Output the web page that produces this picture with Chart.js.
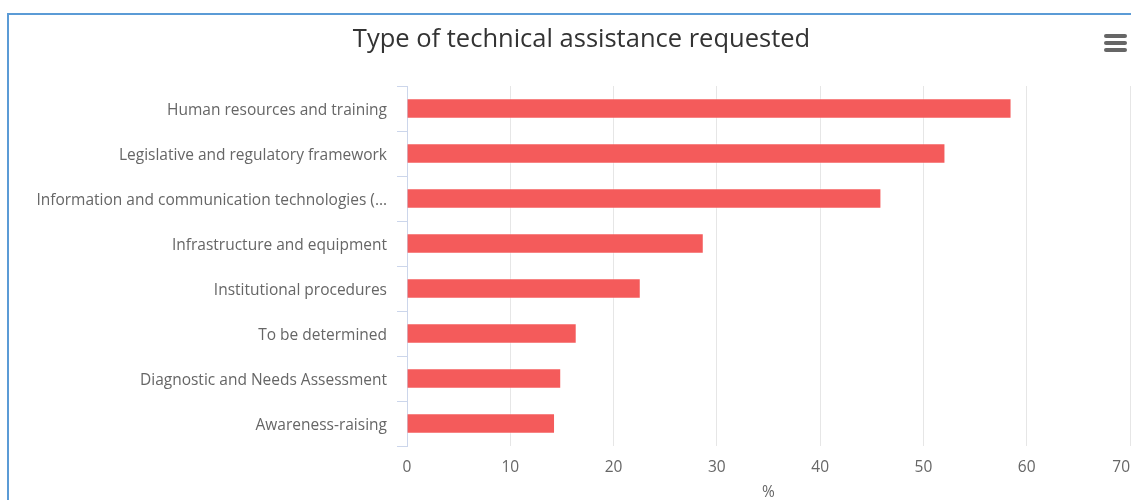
<!DOCTYPE html>
<html>
<head>
<meta charset="utf-8">
<script src="https://cdn.jsdelivr.net/npm/chart.js@4.4.1/dist/chart.umd.min.js"></script>
<style>
  html, body { margin: 0; padding: 0; background: #fff; overflow: hidden; }
  #wrap { position: relative; width: 1131px; height: 500px; overflow: hidden; }
  #chart { position: absolute; left: 0; top: 0; }
  #frame { position: absolute; left: 7px; top: 13px; width: 2000px; height: 2000px;
           border-left: 2px solid #5b9bd6; border-top: 2px solid #5b9bd6; pointer-events: none; }
  #menu { position: absolute; left: 1104px; top: 34px; width: 23px; }
  #menu span { display: block; height: 4px; background: #666; border-radius: 2px; margin-bottom: 3px; }
</style>
</head>
<body>
<div id="wrap">
  <canvas id="chart" width="1131" height="502"></canvas>
  <div id="frame"></div>
  <div id="menu"><span></span><span></span><span></span></div>
</div>
<script>
const categories = [
  'Human resources and training',
  'Legislative and regulatory framework',
  'Information and communication technologies (\u2026',
  'Infrastructure and equipment',
  'Institutional procedures',
  'To be determined',
  'Diagnostic and Needs Assessment',
  'Awareness-raising'
];
const percentValues = [58.5, 52.1, 45.9, 28.7, 22.6, 16.4, 14.9, 14.3];
const axisMin = 0;
const axisMax = 70;
const axisStep = 10;
const chartTitle = 'Type of technical assistance requested';
const axisTitle = '%';

const FONT = '"Open Sans", "DejaVu Sans", sans-serif';
const LABEL_COLOR = '#666666';
const LABEL_SIZE = 15.5;

// The last value label is justified so it stays inside the plot edge
const lastTickLabel = {
  id: 'lastTickLabel',
  afterDraw(chart) {
    const s = chart.scales.x;
    const ctx = chart.ctx;
    const x = s.getPixelForValue(axisMax);
    const pad = s.options.ticks.padding;
    ctx.save();
    ctx.font = LABEL_SIZE + 'px ' + FONT;
    ctx.fillStyle = LABEL_COLOR;
    ctx.textAlign = 'right';
    ctx.textBaseline = 'middle';
    ctx.fillText(String(axisMax), x, s.top + pad + LABEL_SIZE * 1.2 / 2);
    ctx.restore();
  }
};

new Chart(document.getElementById('chart'), {
  type: 'bar',
  data: {
    labels: categories,
    datasets: [{
      data: percentValues,
      backgroundColor: '#f45b5b',
      borderColor: 'rgba(255,255,255,0.35)',
      borderWidth: 1,
      barThickness: 20
    }]
  },
  options: {
    indexAxis: 'y',
    responsive: false,
    animation: false,
    events: [],
    layout: { autoPadding: false, padding: { left: 33, right: 1, top: 0, bottom: 0 } },
    plugins: {
      legend: { display: false },
      tooltip: { enabled: false },
      title: {
        display: true,
        text: chartTitle,
        color: '#333333',
        font: { family: FONT, size: 25.5, weight: 'normal' },
        padding: { top: 24, bottom: 31.4 }
      }
    },
    scales: {
      x: {
        min: axisMin,
        max: axisMax,
        afterFit(s) { s.height = 56; s.paddingLeft = 0; s.paddingRight = 0; },
        ticks: {
          stepSize: axisStep,
          padding: 12.7,
          color: LABEL_COLOR,
          font: { family: FONT, size: LABEL_SIZE },
          callback: (v) => (v === axisMax ? '' : v)
        },
        grid: { color: '#e6e6e6', lineWidth: 1, drawTicks: false },
        border: { display: false },
        title: {
          display: true,
          text: axisTitle,
          color: LABEL_COLOR,
          font: { family: FONT, size: LABEL_SIZE },
          padding: { top: 0, bottom: 0 }
        }
      },
      y: {
        afterFit(s) { s.width = 374; },
        ticks: {
          padding: 10,
          labelOffset: 2,
          color: LABEL_COLOR,
          font: { family: FONT, size: LABEL_SIZE }
        },
        grid: {
          offset: true,
          drawOnChartArea: false,
          drawTicks: true,
          tickLength: 10,
          color: '#ccd6eb'
        },
        border: { display: true, color: '#ccd6eb', width: 1 }
      }
    }
  },
  plugins: [lastTickLabel]
});
</script>
</body>
</html>
